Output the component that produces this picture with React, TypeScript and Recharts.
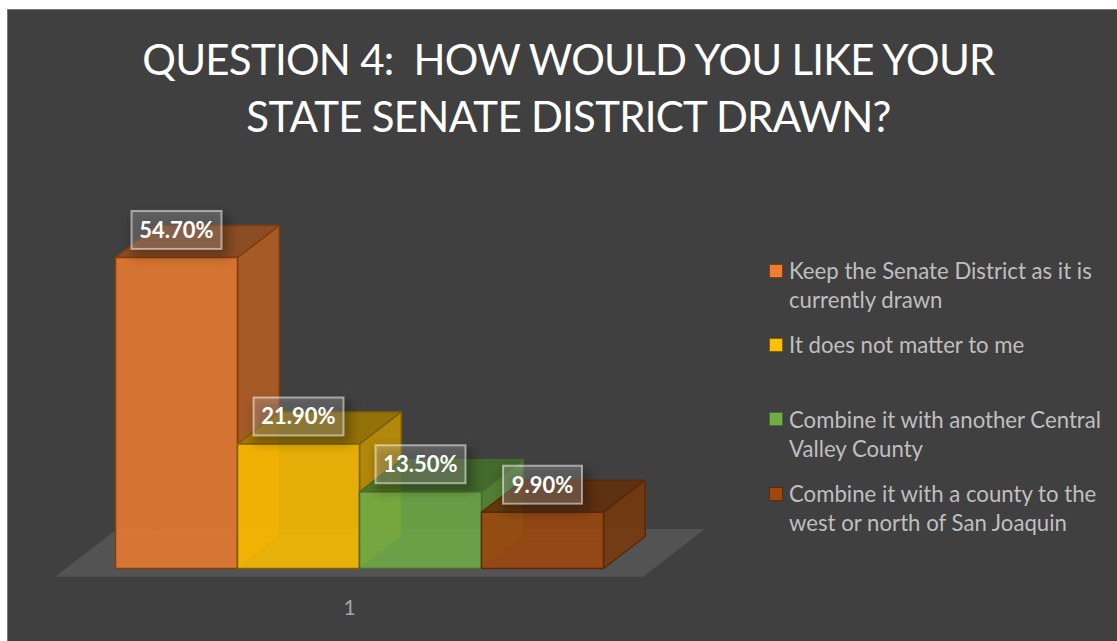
import React from 'react';
import { BarChart, Bar, XAxis, YAxis, Legend, LabelList, ReferenceArea } from 'recharts';

const categories = ['1'];
const seriesNames = [
  'Keep the Senate District as it is currently drawn',
  'It does not matter to me',
  'Combine it with another Central Valley County',
  'Combine it with a county to the west or north of San Joaquin'
];
const seriesValues = [54.7, 21.9, 13.5, 9.9];
const titleLines = ['QUESTION 4:  HOW WOULD YOU LIKE YOUR', 'STATE SENATE DISTRICT DRAWN?'];

const seriesFills = ['#ED7D31', '#FFC000', '#70AD47', '#9E480E'];
const seriesSides = ['#BA6123', '#C79600', '#568A35', '#7A380A'];
const seriesTops = ['#99501F', '#A37B00', '#44702A', '#632E09'];
const seriesEdges = ['#843C0C', '#7F6000', '#466B2C', '#5A2A08'];

const data = categories.map((category) => {
  const row: Record<string, string | number> = { category };
  seriesValues.forEach((value, i) => {
    row[`s${i}`] = value;
  });
  return row;
});

const DEPTH_X = 41.7;
const DEPTH_Y = 32;

const poly = (pts: number[][]) => pts.map((p) => p.join(',')).join(' ');

const Box = (props: any) => {
  const { x, y, width: w, height: h, seriesIndex } = props;
  const fill = seriesFills[seriesIndex];
  const side = seriesSides[seriesIndex];
  const top = seriesTops[seriesIndex];
  const edge = seriesEdges[seriesIndex];
  const dx = DEPTH_X;
  const dy = DEPTH_Y;
  const faceStyle = { stroke: edge, strokeWidth: 1.5, strokeLinejoin: 'round' as const };
  return (
    <g>
      {/* inner faces show faintly through the front */}
      <polygon points={poly([[x, y + h], [x + w, y + h], [x + w + dx, y + h - dy], [x + dx, y + h - dy]])} fill={top} fillOpacity={0.25} stroke={edge} strokeOpacity={0.3} />
      <polygon points={poly([[x, y], [x + dx, y - dy], [x + dx, y + h - dy], [x, y + h]])} fill={top} fillOpacity={0.25} stroke={edge} strokeOpacity={0.3} />
      <polygon points={poly([[x + dx, y - dy], [x + w + dx, y - dy], [x + w + dx, y + h - dy], [x + dx, y + h - dy]])} fill={top} fillOpacity={0.25} stroke={edge} strokeOpacity={0.3} />
      <polygon points={poly([[x + w, y], [x + w + dx, y - dy], [x + w + dx, y + h - dy], [x + w, y + h]])} fill={side} fillOpacity={0.8} {...faceStyle} />
      <polygon points={poly([[x, y], [x + w, y], [x + w + dx, y - dy], [x + dx, y - dy]])} fill={top} fillOpacity={0.8} {...faceStyle} />
      <rect x={x} y={y} width={w} height={h} fill={fill} fillOpacity={0.84} {...faceStyle} />
    </g>
  );
};

const ValueLabel = (props: any) => {
  const { x, y, width, value } = props;
  const text = `${Number(value).toFixed(2)}%`;
  const boxW = text.length > 5 ? 90 : 79;
  const boxH = 38;
  const cx = x + width / 2;
  const cy = y - 27.5;
  return (
    <g>
      <rect x={cx - boxW / 2} y={cy - boxH / 2 + 3} width={boxW + 8} height={boxH + 6} fill="#000" fillOpacity={0.25} style={{ filter: 'blur(5px)' }} />
      <rect x={cx - boxW / 2} y={cy - boxH / 2} width={boxW} height={boxH} fill="#fff" fillOpacity={0.2} stroke="#fff" strokeOpacity={0.5} strokeWidth={2} />
      <text x={cx} y={cy + 8} textAnchor="middle" fill="#fff" fontFamily="Lato" fontWeight={700} fontSize={22}>
        {text}
      </text>
    </g>
  );
};

const Floor = (props: any) => {
  const { x, y, width, height } = props;
  const base = y + height;
  const right = x + width;
  return (
    <polygon
      points={poly([[x - 60.5, base + 8.2], [right + 39.5, base + 8.2], [right + 101.5, base - 39.5], [x + 1.5, base - 39.5]])}
      fill="#545354"
    />
  );
};

const CategoryTick = (props: any) => {
  const { x, y, payload } = props;
  return (
    <text x={x - 10} y={y + 38} textAnchor="middle" fill="#A6A6A6" fontFamily="Lato" fontSize={21}>
      {payload.value}
    </text>
  );
};

const LegendList = (props: any) => {
  const items = props.payload ?? [];
  return (
    <div>
      {items.map((item: any) => {
        const i = seriesNames.indexOf(item.value);
        return (
          <div key={item.value} style={{ height: 74.4, display: 'flex', alignItems: 'flex-start' }}>
            <span
              style={{
                width: 12,
                height: 12,
                marginTop: 7.5,
                marginRight: 6,
                flex: 'none',
                background: seriesFills[i],
                border: `1.5px solid ${seriesEdges[i]}`
              }}
            />
            <span style={{ color: '#BFBFBF', fontFamily: 'Lato', fontSize: 22.2, lineHeight: '29px', width: 325 }}>
              {item.value}
            </span>
          </div>
        );
      })}
    </div>
  );
};

export default function App() {
  return (
    <div style={{ position: 'absolute', left: 0, top: 0, width: 1117, height: 641, overflow: 'hidden', background: '#fff' }}>
      <div
        style={{
          position: 'absolute',
          left: 7,
          top: 9,
          width: 1110,
          height: 632,
          boxSizing: 'border-box',
          background: '#404040',
          borderLeft: '1px solid #7A7A7A',
          borderTop: '1px solid #7A7A7A'
        }}
      />
      <div
        style={{
          position: 'absolute',
          left: 0,
          top: 31,
          width: 1137,
          textAlign: 'center',
          color: '#fff',
          fontFamily: 'Lato',
          fontSize: 42,
          letterSpacing: -0.75,
          lineHeight: '57px',
          whiteSpace: 'pre'
        }}
      >
        {titleLines.map((line) => (
          <div key={line}>{line}</div>
        ))}
      </div>
      <div style={{ position: 'absolute', left: 0, top: 0 }}>
        <BarChart
          width={1117}
          height={641}
          data={data}
          barCategoryGap={0}
          barGap={0}
          margin={{ top: 227.3, right: 513.5, bottom: 32.5, left: 115.5 }}
        >
          <XAxis dataKey="category" axisLine={false} tickLine={false} height={40} tick={<CategoryTick />} />
          <YAxis hide type="number" domain={[0, 60]} />
          <ReferenceArea y1={0} y2={1} shape={<Floor />} />
          {seriesNames.map((name, i) => (
            <Bar
              key={name}
              dataKey={`s${i}`}
              name={name}
              fill={seriesFills[i]}
              isAnimationActive={false}
              shape={(p: any) => <Box {...p} seriesIndex={i} />}
            >
              <LabelList dataKey={`s${i}`} content={<ValueLabel />} />
            </Bar>
          ))}
          <Legend
            layout="vertical"
            align="center"
            verticalAlign="middle"
            itemSorter={null}
            wrapperStyle={{ left: 769, top: 256, width: 345 }}
            content={<LegendList />}
          />
        </BarChart>
      </div>
    </div>
  );
}
